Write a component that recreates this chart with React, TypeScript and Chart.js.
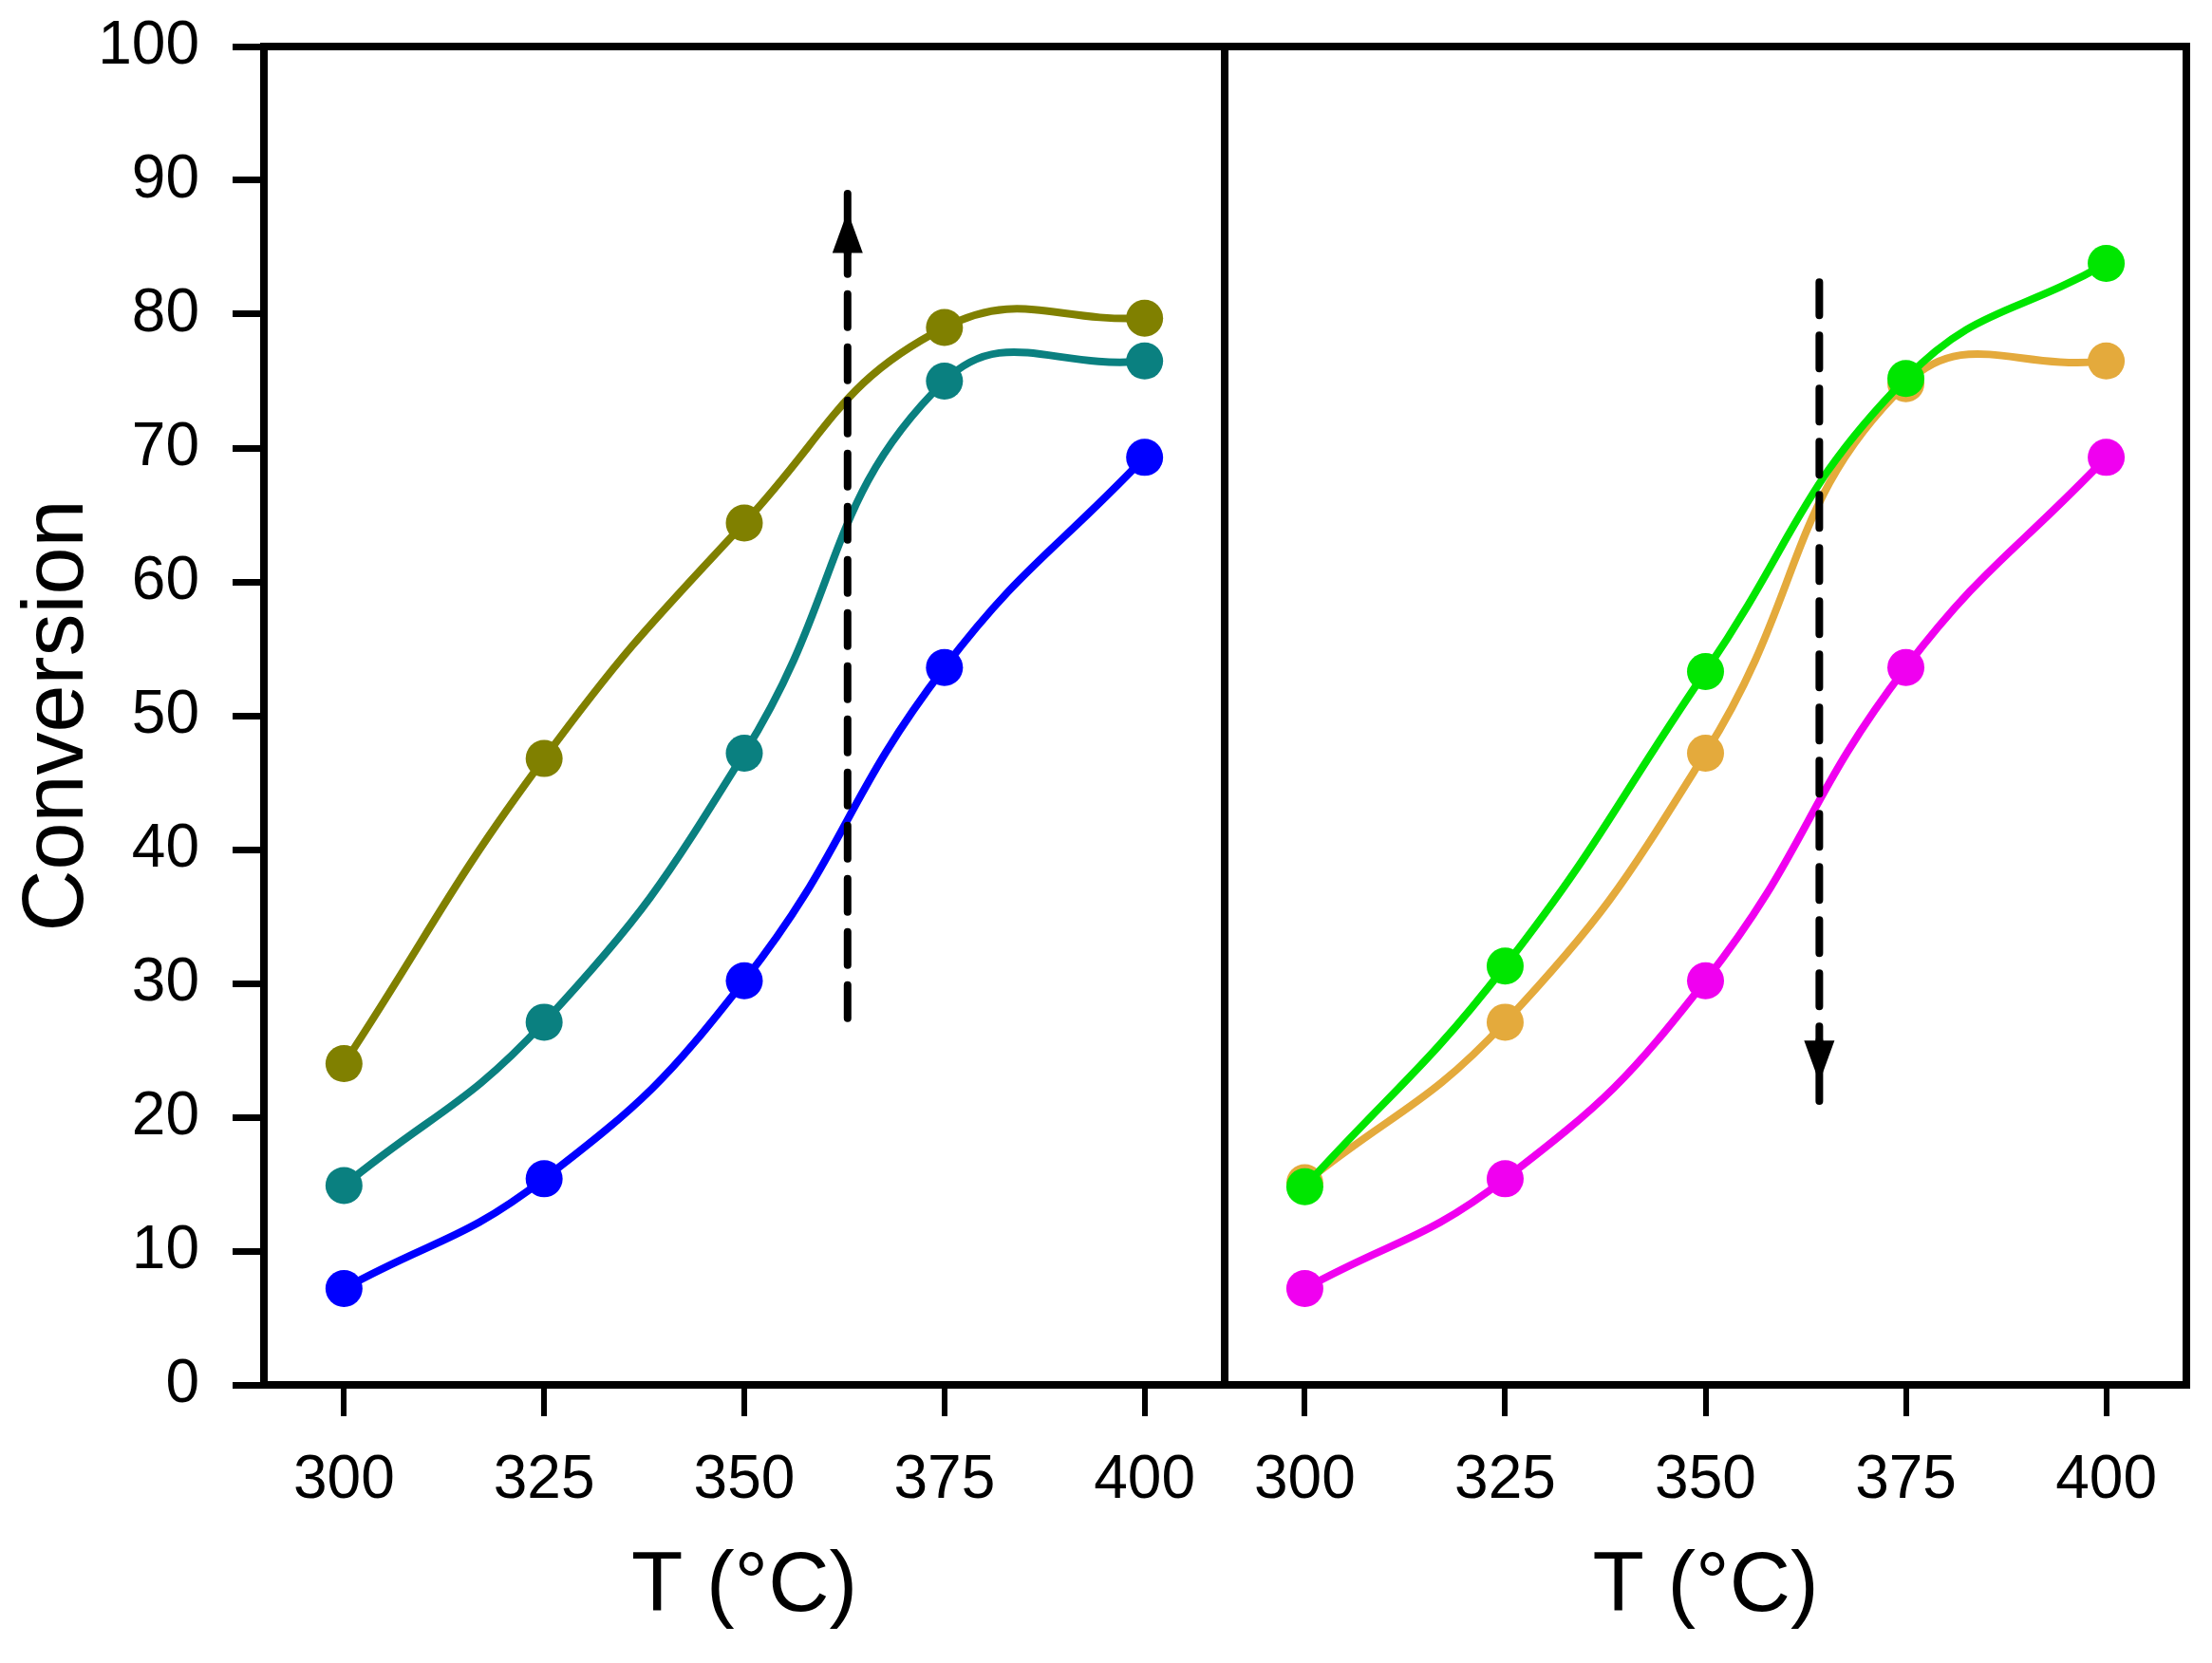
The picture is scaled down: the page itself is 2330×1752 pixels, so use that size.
import { useEffect, useRef } from "react"
import { Chart, registerables } from "chart.js"

Chart.register(...registerables)

const FONT = "'Liberation Sans', Arial, sans-serif"

// temperatures (°C) and tick values
const temps = [300, 325, 350, 375, 400]
const xTicks = [300, 325, 350, 375, 400]
const yTicks = [0, 10, 20, 30, 40, 50, 60, 70, 80, 90, 100]

// left panel series
const oliveVals = [24.0, 46.8, 64.4, 79.0, 79.7]
const tealVals = [14.9, 27.1, 47.2, 75.0, 76.5]
const blueVals = [7.2, 15.4, 30.2, 53.6, 69.3]

// right panel series
const greenVals = [14.8, 31.3, 53.3, 75.2, 83.8]
const orangeVals = [15.1, 27.1, 47.2, 74.8, 76.5]
const magentaVals = [7.2, 15.4, 30.2, 53.6, 69.3]

// dashed arrows: [x, tail, end, head tip]
const leftArrow = [362.9, 27.4, 89.0, 87.7]
const rightArrow = [364.2, 82.4, 21.2, 22.6]

const framePlugin = {
  id: "frame",
  beforeDatasetsDraw(chart: any) {
    const { ctx, chartArea: a } = chart
    ctx.save()
    ctx.strokeStyle = "#000"
    ctx.lineWidth = 8
    ctx.strokeRect(a.left, a.top, a.right - a.left, a.bottom - a.top)
    ctx.restore()
  },
}

const arrowPlugin = {
  id: "arrow",
  afterDatasetsDraw(chart: any, _args: any, opts: any) {
    if (!opts.spec) return
    const [xv, tail, end, tip] = opts.spec
    const { ctx } = chart
    const px = chart.scales.x.getPixelForValue(xv)
    const y0 = chart.scales.y.getPixelForValue(tail)
    const y1 = chart.scales.y.getPixelForValue(end)
    const yt = chart.scales.y.getPixelForValue(tip)
    const dir = y1 < y0 ? -1 : 1
    const headLen = 44
    const half = 16
    const base = yt - dir * headLen
    ctx.save()
    ctx.strokeStyle = "#000"
    ctx.fillStyle = "#000"
    ctx.lineWidth = 8
    ctx.lineCap = "round"
    ctx.setLineDash([35, 21])
    ctx.beginPath()
    ctx.moveTo(px, y0)
    ctx.lineTo(px, base + dir * 14)
    ctx.stroke()
    ctx.setLineDash([])
    ctx.beginPath()
    ctx.moveTo(px, base)
    ctx.lineTo(px, y1)
    ctx.stroke()
    ctx.beginPath()
    ctx.moveTo(px, yt)
    ctx.lineTo(px - half, base)
    ctx.lineTo(px + half, base)
    ctx.closePath()
    ctx.fill()
    ctx.restore()
  },
}

function series(vals: number[], color: string) {
  return {
    data: temps.map((t, i) => ({ x: t, y: vals[i] })),
    borderColor: color,
    backgroundColor: color,
    borderWidth: 8,
    pointRadius: 19.5,
    pointHoverRadius: 19.5,
    pointBorderWidth: 0,
    tension: 0.45,
  }
}

function buildOptions(showY: boolean, arrow: number[], padLeft: number, padRight: number): any {
  return {
    animation: false,
    responsive: false,
    devicePixelRatio: 1,
    layout: { autoPadding: false, padding: { left: padLeft, right: padRight, top: 49, bottom: 0 } },
    plugins: {
      legend: { display: false },
      tooltip: { enabled: false },
      arrow: { spec: arrow },
    },
    scales: {
      x: {
        type: "linear",
        min: 290,
        max: 410,
        afterBuildTicks: (s: any) => {
          s.ticks = xTicks.map((v) => ({ value: v }))
        },
        afterFit: (s: any) => {
          s.height = 293
          s.paddingLeft = 0
          s.paddingRight = 0
        },
        grid: { drawOnChartArea: false, tickLength: 33, lineWidth: 6, color: "#000" },
        border: { display: false },
        ticks: {
          padding: 30,
          color: "#000",
          maxRotation: 0,
          autoSkip: false,
          font: { family: FONT, size: 64 },
        },
        title: {
          display: true,
          text: "T (°C)",
          color: "#000",
          font: { family: FONT, size: 89 },
          padding: { top: 0, bottom: 26 },
        },
      },
      y: {
        display: showY,
        min: 0,
        max: 100,
        afterBuildTicks: (s: any) => {
          s.ticks = yTicks.map((v) => ({ value: v }))
        },
        afterFit: (s: any) => {
          s.width = showY ? 278 : 0
          s.paddingTop = 0
          s.paddingBottom = 0
        },
        grid: { drawOnChartArea: false, tickLength: 33, lineWidth: 7, color: "#000" },
        border: { display: false },
        ticks: {
          padding: 35,
          color: "#000",
          font: { family: FONT, size: 64 },
        },
        title: {
          display: true,
          text: "Conversion",
          color: "#000",
          font: { family: FONT, size: 90 },
          padding: { top: 8, bottom: 0 },
        },
      },
    },
  }
}

export default function App() {
  const leftRef = useRef<HTMLCanvasElement>(null)
  const rightRef = useRef<HTMLCanvasElement>(null)

  useEffect(() => {
    if (!leftRef.current || !rightRef.current) return

    const left = new Chart(leftRef.current, {
      type: "line",
      data: {
        datasets: [
          series(oliveVals, "#808000"),
          series(tealVals, "#0A8080"),
          series(blueVals, "#0000FF"),
        ],
      },
      options: buildOptions(true, leftArrow, 0, 10),
      plugins: [framePlugin, arrowPlugin],
    })

    const right = new Chart(rightRef.current, {
      type: "line",
      data: {
        datasets: [
          series(greenVals, "#00E600"),
          series(orangeVals, "#E4AA3C"),
          series(magentaVals, "#F000F0"),
        ],
      },
      options: buildOptions(false, rightArrow, 10, 27),
      plugins: [framePlugin, arrowPlugin],
    })

    return () => {
      left.destroy()
      right.destroy()
    }
  }, [])

  return (
    <div style={{ position: "absolute", left: 0, top: 0, width: 2330, height: 1752, background: "#fff" }}>
      <canvas ref={leftRef} width={1300} height={1752} style={{ position: "absolute", left: 0, top: 0 }} />
      <canvas ref={rightRef} width={1050} height={1752} style={{ position: "absolute", left: 1280, top: 0 }} />
    </div>
  )
}
